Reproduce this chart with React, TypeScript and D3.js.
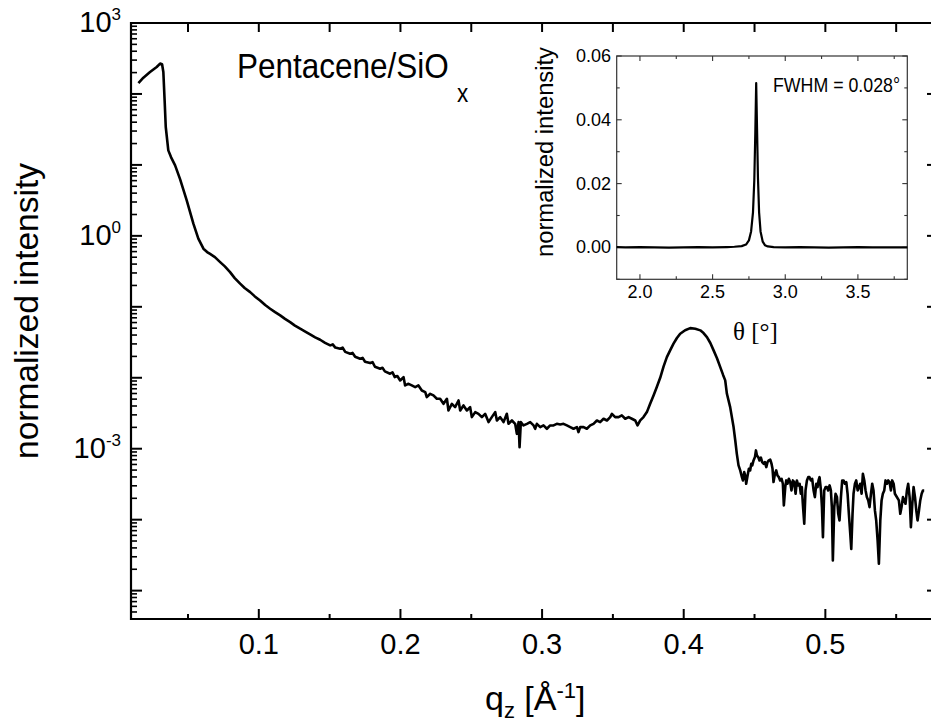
import React from 'react';
import * as d3 from 'd3';

// Main reflectivity scan: [q_z (1/Å), log10(normalized intensity)]
const reflectivity: [number, number][] = [
  [0.0150, 2.154], [0.0185, 2.230], [0.0232, 2.309], [0.0279, 2.380], [0.0303, 2.428],
  [0.0317, 2.418], [0.0326, 2.309], [0.0335, 1.910], [0.0343, 1.534], [0.0361, 1.205],
  [0.0380, 1.110], [0.0409, 0.994], [0.0444, 0.800], [0.0491, 0.500], [0.0538, 0.172],
  [0.0573, -0.040], [0.0609, -0.181], [0.0635, -0.228], [0.0656, -0.255], [0.0690, -0.300],
  [0.0727, -0.370], [0.0760, -0.430], [0.0797, -0.511], [0.0830, -0.595], [0.0868, -0.674],
  [0.0900, -0.735], [0.0939, -0.793], [0.0970, -0.850], [0.1009, -0.910], [0.1045, -0.975],
  [0.1080, -1.027], [0.1115, -1.075], [0.1151, -1.121], [0.1185, -1.170], [0.1221, -1.216],
  [0.1255, -1.265], [0.1292, -1.309], [0.1325, -1.345], [0.1362, -1.389], [0.1398, -1.430],
  [0.1433, -1.464], [0.1468, -1.508], [0.1504, -1.544], [0.1522, -1.530], [0.1540, -1.575],
  [0.1574, -1.591], [0.1592, -1.575], [0.1610, -1.635], [0.1645, -1.661], [0.1662, -1.650],
  [0.1680, -1.705], [0.1715, -1.732], [0.1733, -1.720], [0.1750, -1.775], [0.1786, -1.793],
  [0.1803, -1.780], [0.1820, -1.845], [0.1857, -1.872], [0.1873, -1.860], [0.1890, -1.910],
  [0.1927, -1.943], [0.1944, -1.925], [0.1960, -1.990], [0.1978, -1.975],
  [0.1998, -2.038], [0.2022, -1.991], [0.2033, -2.108], [0.2057, -2.085], [0.2080, -2.108],
  [0.2104, -2.132], [0.2127, -2.108], [0.2151, -2.179], [0.2175, -2.202], [0.2186, -2.273],
  [0.2210, -2.226], [0.2233, -2.249], [0.2257, -2.296], [0.2280, -2.296], [0.2304, -2.367],
  [0.2328, -2.296], [0.2339, -2.461], [0.2363, -2.367], [0.2386, -2.414], [0.2410, -2.320],
  [0.2422, -2.461], [0.2445, -2.390], [0.2469, -2.461], [0.2492, -2.414], [0.2504, -2.555],
  [0.2528, -2.484], [0.2551, -2.508], [0.2575, -2.555], [0.2598, -2.508], [0.2622, -2.625],
  [0.2645, -2.555], [0.2669, -2.484], [0.2681, -2.602], [0.2704, -2.555], [0.2728, -2.625],
  [0.2751, -2.508], [0.2763, -2.649], [0.2787, -2.602], [0.2810, -2.649], [0.2822, -2.790],
  [0.2834, -2.625], [0.2841, -2.978], [0.2850, -2.625], [0.2869, -2.672], [0.2893, -2.649],
  [0.2916, -2.625], [0.2940, -2.672], [0.2951, -2.719], [0.2963, -2.649], [0.2987, -2.696],
  [0.3010, -2.672], [0.3034, -2.719], [0.3057, -2.672], [0.3081, -2.672], [0.3104, -2.649],
  [0.3128, -2.658], [0.3151, -2.649], [0.3175, -2.672], [0.3199, -2.696], [0.3222, -2.719],
  [0.3246, -2.696], [0.3257, -2.766], [0.3269, -2.696], [0.3293, -2.696], [0.3316, -2.719],
  [0.3340, -2.672], [0.3363, -2.649], [0.3387, -2.602], [0.3410, -2.625], [0.3434, -2.578],
  [0.3458, -2.602], [0.3481, -2.555], [0.3493, -2.508], [0.3516, -2.555], [0.3540, -2.555],
  [0.3563, -2.531], [0.3587, -2.578], [0.3611, -2.555], [0.3634, -2.578], [0.3658, -2.602],
  [0.3674, -2.672], [0.3693, -2.601], [0.3716, -2.554], [0.3740, -2.484], [0.3763, -2.366],
  [0.3787, -2.249], [0.3810, -2.131], [0.3834, -2.000], [0.3858, -1.840], [0.3881, -1.709],
  [0.3905, -1.610], [0.3928, -1.520], [0.3952, -1.440], [0.3975, -1.379], [0.4010, -1.330],
  [0.4046, -1.300], [0.4082, -1.310], [0.4117, -1.332], [0.4140, -1.370], [0.4164, -1.427],
  [0.4188, -1.510], [0.4211, -1.614], [0.4235, -1.725], [0.4258, -1.850], [0.4278, -1.960],
  [0.4293, -2.037], [0.4305, -2.226], [0.4328, -2.414], [0.4352, -2.695], [0.4364, -2.884],
  [0.4375, -3.072], [0.4387, -3.235], [0.4399, -3.306], [0.4411, -3.401], [0.4418, -3.447],
  [0.4427, -3.330], [0.4437, -3.401], [0.4441, -3.494], [0.4451, -3.377], [0.4460, -3.283],
  [0.4469, -3.306], [0.4477, -3.212], [0.4484, -3.235], [0.4493, -3.165], [0.4503, -3.118],
  [0.4510, -3.024], [0.4517, -3.095], [0.4526, -3.118], [0.4535, -3.165], [0.4545, -3.127],
  [0.4554, -3.188], [0.4564, -3.212], [0.4573, -3.188], [0.4583, -3.259], [0.4592, -3.188],
  [0.4601, -3.165], [0.4611, -3.155], [0.4620, -3.212], [0.4627, -3.283], [0.4634, -3.470],
  [0.4644, -3.353], [0.4653, -3.306], [0.4662, -3.377], [0.4672, -3.401], [0.4681, -3.447],
  [0.4691, -3.424], [0.4700, -3.494], [0.4707, -3.800], [0.4717, -3.541], [0.4724, -3.447],
  [0.4733, -3.494], [0.4742, -3.424], [0.4752, -3.471], [0.4761, -3.588], [0.4771, -3.447],
  [0.4780, -3.471], [0.4790, -3.635], [0.4799, -3.447], [0.4808, -3.517], [0.4818, -3.494],
  [0.4827, -3.635], [0.4834, -3.541], [0.4841, -3.776], [0.4851, -4.058], [0.4860, -3.588],
  [0.4870, -3.447], [0.4879, -3.401], [0.4888, -3.401], [0.4898, -3.447], [0.4907, -3.424],
  [0.4917, -3.588], [0.4926, -3.682], [0.4936, -3.494], [0.4945, -3.541], [0.4952, -3.447],
  [0.4959, -3.401], [0.4969, -3.588], [0.4976, -3.823], [0.4983, -4.246], [0.4992, -3.588],
  [0.5002, -3.541], [0.5011, -3.541], [0.5020, -3.588], [0.5030, -3.517], [0.5039, -3.588],
  [0.5046, -3.823], [0.5053, -4.575], [0.5063, -3.823], [0.5072, -3.635], [0.5082, -3.682],
  [0.5091, -3.917], [0.5100, -4.011], [0.5110, -3.682], [0.5119, -3.447], [0.5129, -3.447],
  [0.5138, -3.494], [0.5148, -3.471], [0.5157, -3.635], [0.5166, -3.917], [0.5176, -4.199],
  [0.5183, -4.411], [0.5192, -3.917], [0.5199, -3.635], [0.5209, -3.494], [0.5218, -3.447],
  [0.5228, -3.588], [0.5237, -3.541], [0.5246, -3.494], [0.5256, -3.635], [0.5265, -3.353],
  [0.5275, -3.447], [0.5284, -3.588], [0.5293, -3.682], [0.5303, -3.729], [0.5312, -3.823],
  [0.5322, -3.635], [0.5331, -3.494], [0.5340, -3.588], [0.5350, -3.870], [0.5359, -4.011],
  [0.5369, -4.293], [0.5378, -4.622], [0.5388, -4.011], [0.5397, -3.729], [0.5406, -3.635],
  [0.5416, -3.588], [0.5425, -3.447], [0.5435, -3.494], [0.5444, -3.447], [0.5453, -3.471],
  [0.5463, -3.588], [0.5472, -3.447], [0.5482, -3.494], [0.5491, -3.635], [0.5519, -3.729],
  [0.5529, -3.917], [0.5538, -3.823], [0.5548, -3.682], [0.5557, -3.729], [0.5566, -3.776],
  [0.5576, -3.588], [0.5585, -3.494], [0.5595, -3.682], [0.5604, -4.105], [0.5614, -3.776],
  [0.5623, -3.541], [0.5633, -3.682], [0.5642, -3.870], [0.5651, -4.011], [0.5661, -3.870],
  [0.5670, -3.729], [0.5680, -3.635], [0.5689, -3.588], [0.5698, -3.588],
];

// Inset rocking curve: [theta (deg), normalized intensity]
const rockingCurve: [number, number][] = [
  [1.84, 0.0001], [1.90, 0.0000], [2.00, 0.0001], [2.10, 0.0000], [2.20, -0.0001],
  [2.30, 0.0000], [2.40, 0.0001], [2.50, 0.0000], [2.60, 0.0001], [2.65, 0.0002],
  [2.70, 0.0004], [2.73, 0.0009], [2.75, 0.0022], [2.765, 0.005], [2.778, 0.011],
  [2.787, 0.021], [2.794, 0.036], [2.800, 0.0515], [2.806, 0.037], [2.812, 0.022],
  [2.820, 0.011], [2.830, 0.005], [2.845, 0.0018], [2.86, 0.0007], [2.88, 0.0003],
  [2.92, 0.0001], [3.00, 0.0000], [3.10, 0.0001], [3.20, 0.0000], [3.30, -0.0001],
  [3.40, 0.0000], [3.50, 0.0001], [3.60, 0.0000], [3.70, 0.0000], [3.84, 0.0000],
];

const xMajorTicks = [0.1, 0.2, 0.3, 0.4, 0.5];
const xMinorTicks = [0.05, 0.15, 0.25, 0.35, 0.45, 0.55];
const yLabelExponents = [3, 0, -3];
const yDecades = [-5, -4, -3, -2, -1, 0, 1, 2, 3];
const insetXMajor = [2.0, 2.5, 3.0, 3.5];
const insetXMinor = [2.25, 2.75, 3.25, 3.75];
const insetYMajor = [0.0, 0.02, 0.04, 0.06];
const insetYMinor = [-0.01, 0.01, 0.03, 0.05];

const SANS = '"Liberation Sans", Arial, Helvetica, sans-serif';
const SERIF = '"Liberation Serif", "Times New Roman", serif';

export default function App() {
  const W = 931;
  const H = 726;
  const L = 131, R = 932, T = 23, B = 619;

  const x = d3.scaleLinear().domain([0.00976, 0.5753]).range([L, R]);
  const y = d3.scaleLog().domain([Math.pow(10, -5.4), 1000]).range([B, T]);

  const line = d3
    .line<[number, number]>()
    .x((d) => x(d[0]))
    .y((d) => y(Math.pow(10, d[1])));

  const yMinor: number[] = [];
  for (let k = -6; k <= 2; k++) {
    for (let m = 2; m <= 9; m++) {
      const v = m * Math.pow(10, k);
      if (v >= Math.pow(10, -5.4) && v <= 1000) yMinor.push(v);
    }
  }

  // inset
  const iL = 616.7, iR = 907.3, iT = 56, iB = 279.3;
  const xi = d3.scaleLinear().domain([1.84, 3.84]).range([iL, iR]);
  const yi = d3.scaleLinear().domain([-0.01, 0.06]).range([iB, iT]);
  const insetLine = d3
    .line<[number, number]>()
    .x((d) => xi(d[0]))
    .y((d) => yi(d[1]));

  const frame = '#000';
  const iframe = '#333';

  return (
    <svg
      width={W}
      height={H}
      style={{ position: 'absolute', left: 0, top: 0, background: '#fff' }}
      fontFamily={SANS}
    >
      <rect x={0} y={0} width={W} height={H} fill="#fff" />

      {/* main ticks */}
      {yDecades.map((k) => (
        <g key={'yd' + k}>
          <line x1={L} x2={L + 11} y1={y(Math.pow(10, k))} y2={y(Math.pow(10, k))} stroke={frame} strokeWidth={2} />
          <line x1={R - 5} x2={R} y1={y(Math.pow(10, k))} y2={y(Math.pow(10, k))} stroke={frame} strokeWidth={2} />
        </g>
      ))}
      {yMinor.map((v, i) => (
        <line key={'ym' + i} x1={L} x2={L + 6} y1={y(v)} y2={y(v)} stroke={frame} strokeWidth={1.6} />
      ))}
      {xMajorTicks.map((v) => (
        <g key={'xM' + v}>
          <line x1={x(v)} x2={x(v)} y1={B} y2={B - 10} stroke={frame} strokeWidth={2} />
          <line x1={x(v)} x2={x(v)} y1={T} y2={T + 9} stroke={frame} strokeWidth={2} />
        </g>
      ))}
      {xMinorTicks.map((v) => (
        <g key={'xm' + v}>
          <line x1={x(v)} x2={x(v)} y1={B} y2={B - 5} stroke={frame} strokeWidth={2} />
          <line x1={x(v)} x2={x(v)} y1={T} y2={T + 9} stroke={frame} strokeWidth={2} />
        </g>
      ))}

      {/* frame */}
      <path d={`M${L},${T}H${R + 2}M${L},${B}H${R + 2}M${L},${T - 1}V${B + 1}`} stroke={frame} strokeWidth={2.2} fill="none" />

      {/* data */}
      <path d={line(reflectivity) || ''} fill="none" stroke="#000" strokeWidth={2.6} strokeLinejoin="round" />

      {/* tick labels */}
      {xMajorTicks.map((v) => (
        <text key={'xl' + v} x={x(v)} y={654} fontSize={29} textAnchor="middle">
          {v.toFixed(1)}
        </text>
      ))}
      {yLabelExponents.map((e) => (
        <text key={'yl' + e} x={121} y={y(Math.pow(10, e)) + 9} fontSize={29} textAnchor="end">
          10
          <tspan fontSize={17} dy={-12}>{e}</tspan>
        </text>
      ))}

      {/* axis titles */}
      <text transform="translate(38,311) rotate(-90)" fontSize={34} textAnchor="middle" textLength={296} lengthAdjust="spacingAndGlyphs">
        normalized intensity
      </text>
      <text x={485} y={710} fontSize={34}>
        q<tspan fontSize={22} dy={8}>z</tspan>
        <tspan dy={-8}> [Å</tspan>
        <tspan fontSize={22} dy={-12}>-1</tspan>
        <tspan dy={12}>]</tspan>
      </text>

      {/* sample label */}
      <text transform="translate(237,78) scale(0.9,1)" fontSize={35}>
        Pentacene/SiO
        <tspan fontSize={25} dx={9} dy={24}>x</tspan>
      </text>

      {/* inset */}
      <rect x={iL} y={iT} width={iR - iL} height={iB - iT} fill="#fff" stroke={iframe} strokeWidth={1.2} />
      {insetYMajor.map((v) => (
        <g key={'iyM' + v}>
          <line x1={iL} x2={iL + 5} y1={yi(v)} y2={yi(v)} stroke={iframe} strokeWidth={1.1} />
          <line x1={iR - 5} x2={iR} y1={yi(v)} y2={yi(v)} stroke={iframe} strokeWidth={1.1} />
        </g>
      ))}
      {insetYMinor.map((v) => (
        <g key={'iym' + v}>
          <line x1={iL} x2={iL + 3} y1={yi(v)} y2={yi(v)} stroke={iframe} strokeWidth={1.1} />
          <line x1={iR - 3} x2={iR} y1={yi(v)} y2={yi(v)} stroke={iframe} strokeWidth={1.1} />
        </g>
      ))}
      {insetXMajor.map((v) => (
        <g key={'ixM' + v}>
          <line x1={xi(v)} x2={xi(v)} y1={iB} y2={iB - 5} stroke={iframe} strokeWidth={1.1} />
          <line x1={xi(v)} x2={xi(v)} y1={iT} y2={iT + 5} stroke={iframe} strokeWidth={1.1} />
        </g>
      ))}
      {insetXMinor.map((v) => (
        <g key={'ixm' + v}>
          <line x1={xi(v)} x2={xi(v)} y1={iB} y2={iB - 3} stroke={iframe} strokeWidth={1.1} />
          <line x1={xi(v)} x2={xi(v)} y1={iT} y2={iT + 3} stroke={iframe} strokeWidth={1.1} />
        </g>
      ))}
      <path d={insetLine(rockingCurve) || ''} fill="none" stroke="#000" strokeWidth={2.2} strokeLinejoin="round" />
      {insetYMajor.map((v) => (
        <text key={'iyl' + v} x={611} y={yi(v) + 6} fontSize={18} textAnchor="end">
          {v.toFixed(2)}
        </text>
      ))}
      {insetXMajor.map((v) => (
        <text key={'ixl' + v} x={xi(v)} y={298} fontSize={18} textAnchor="middle">
          {v.toFixed(1)}
        </text>
      ))}
      <text transform="translate(553,152) rotate(-90)" fontSize={23} textAnchor="middle" textLength={210} lengthAdjust="spacingAndGlyphs">
        normalized intensity
      </text>
      <text x={733} y={340} fontSize={25} fontFamily={SERIF}>
        θ [°]
      </text>
      <text x={773} y={91.5} fontSize={20} textLength={127} lengthAdjust="spacingAndGlyphs">
        FWHM = 0.028°
      </text>
    </svg>
  );
}
